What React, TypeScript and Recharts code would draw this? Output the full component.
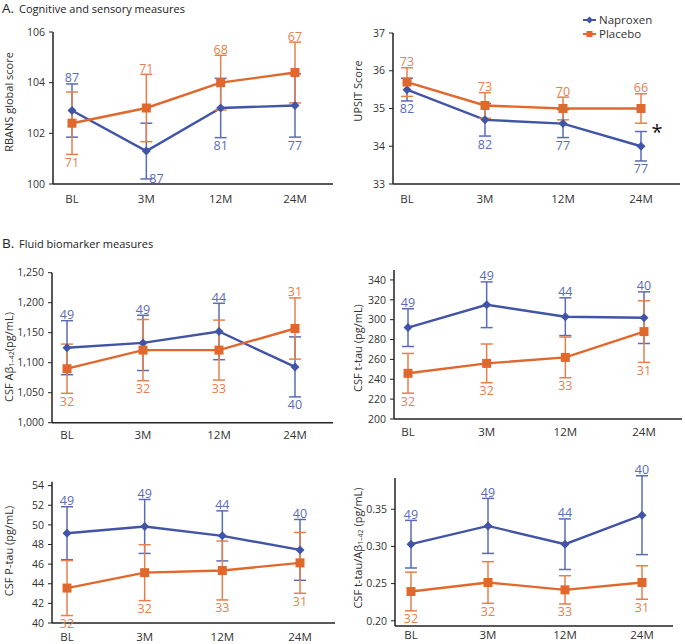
import { LineChart, Line, XAxis, YAxis, ErrorBar, LabelList, Legend } from 'recharts';

const visits = ['BL', '3M', '12M', '24M'];

// A. RBANS global score
const rbansNap = [102.9, 101.3, 103.0, 103.1];
const rbansNapErr = [1.05, 1.1, 1.17, 1.25];
const rbansNapN = [87, 87, 81, 77];
const rbansPla = [102.4, 103.0, 104.0, 104.4];
const rbansPlaErr = [1.23, 1.33, 1.08, 1.2];
const rbansPlaN = [71, 71, 68, 67];

// A. UPSIT score
const upsitNap = [35.5, 34.7, 34.6, 34.0];
const upsitNapErr = [0.3, 0.43, 0.37, 0.39];
const upsitNapN = [82, 82, 77, 77];
const upsitPla = [35.7, 35.08, 35.0, 35.0];
const upsitPlaErr = [0.38, 0.34, 0.3, 0.39];
const upsitPlaN = [73, 73, 70, 66];

// B. CSF Abeta 1-42
const abNap = [1125, 1133, 1152, 1093];
const abNapErr = [45, 46, 47, 50];
const abNapN = [49, 49, 44, 40];
const abPla = [1090, 1121, 1121, 1157];
const abPlaErr = [41, 51, 50, 51];
const abPlaN = [32, 32, 33, 31];

// B. CSF t-tau
const ttauNap = [292, 315, 303, 302];
const ttauNapErr = [19, 23, 19, 26];
const ttauNapN = [49, 49, 44, 40];
const ttauPla = [246, 256, 262, 288];
const ttauPlaErr = [20, 19.5, 20.5, 31];
const ttauPlaN = [32, 32, 33, 31];

// B. CSF P-tau
const ptauNap = [49.15, 49.84, 48.88, 47.45];
const ptauNapErr = [2.7, 2.75, 2.55, 3.1];
const ptauNapN = [49, 49, 44, 40];
const ptauPla = [43.56, 45.13, 45.35, 46.13];
const ptauPlaErr = [2.8, 2.85, 3.0, 3.1];
const ptauPlaN = [32, 32, 33, 31];

// B. CSF t-tau / Abeta 1-42
const ratioNap = [0.303, 0.3276, 0.303, 0.342];
const ratioNapErr = [0.032, 0.037, 0.034, 0.053];
const ratioNapN = [49, 49, 44, 40];
const ratioPla = [0.2394, 0.2515, 0.2416, 0.2515];
const ratioPlaErr = [0.026, 0.028, 0.019, 0.0225];
const ratioPlaN = [32, 32, 33, 31];

const NAP = '#4254a6';
const NAP_LIGHT = '#5a6cb6';
const PLA = '#e1682c';
const PLA_LIGHT = '#e5804c';
const AXIS = '#222';
const FONT = '"Open Sans", sans-serif';

type Side = 'top' | 'bottom' | 'right';

const sub = (main: string, tail: string) => (
  <>
    {main}
    <tspan dy={2.5} fontSize={7}>1–42</tspan>
    <tspan dy={-2.5}>{tail}</tspan>
  </>
);

const panels = [
  {
    key: 'rbans',
    box: { x: 0, y: 0, w: 340, h: 225 },
    plot: { left: 53, top: 32, right: 333, bottom: 184 },
    pad: { left: 19, right: 38 },
    domain: [100, 106], ticks: [100, 102, 104, 106], fmt: (v: number) => String(v),
    xGap: 11, title: 'RBANS global score' as React.ReactNode, titleX: 8.5, titleY: 102,
    nap: rbansNap, napErr: rbansNapErr, napN: rbansNapN, napSide: ['top', 'right', 'bottom', 'bottom'] as Side[],
    pla: rbansPla, plaErr: rbansPlaErr, plaN: rbansPlaN, plaSide: ['bottom', 'top', 'top', 'top'] as Side[],
  },
  {
    key: 'upsit',
    box: { x: 340, y: 0, w: 345, h: 225 },
    plot: { left: 393, top: 33, right: 680, bottom: 184 },
    pad: { left: 14, right: 39 },
    domain: [33, 37], ticks: [33, 34, 35, 36, 37], fmt: (v: number) => String(v),
    xGap: 11, title: 'UPSIT Score' as React.ReactNode, titleX: 357, titleY: 91,
    nap: upsitNap, napErr: upsitNapErr, napN: upsitNapN, napSide: ['bottom', 'bottom', 'bottom', 'bottom'] as Side[],
    pla: upsitPla, plaErr: upsitPlaErr, plaN: upsitPlaN, plaSide: ['top', 'top', 'top', 'top'] as Side[],
  },
  {
    key: 'ab',
    box: { x: 0, y: 240, w: 340, h: 215 },
    plot: { left: 52, top: 272.7, right: 333, bottom: 422.7 },
    pad: { left: 15, right: 38 },
    domain: [1000, 1250], ticks: [1000, 1050, 1100, 1150, 1200, 1250],
    fmt: (v: number) => v.toLocaleString('en-US'),
    xGap: 8, title: sub('CSF Aβ', '(pg/mL)'), titleX: 8, titleY: 357,
    nap: abNap, napErr: abNapErr, napN: abNapN, napSide: ['top', 'top', 'top', 'bottom'] as Side[],
    pla: abPla, plaErr: abPlaErr, plaN: abPlaN, plaSide: ['bottom', 'bottom', 'bottom', 'top'] as Side[],
  },
  {
    key: 'ttau',
    box: { x: 340, y: 240, w: 345, h: 215 },
    plot: { left: 394, top: 270, right: 682, bottom: 419 },
    pad: { left: 14, right: 38 },
    domain: [200, 350], ticks: [200, 220, 240, 260, 280, 300, 320, 340], fmt: (v: number) => String(v),
    xGap: 8.5, title: 'CSF t-tau (pg/mL)' as React.ReactNode, titleX: 357, titleY: 348,
    nap: ttauNap, napErr: ttauNapErr, napN: ttauNapN, napSide: ['top', 'top', 'top', 'top'] as Side[],
    pla: ttauPla, plaErr: ttauPlaErr, plaN: ttauPlaN, plaSide: ['bottom', 'bottom', 'bottom', 'bottom'] as Side[],
  },
  {
    key: 'ptau',
    box: { x: 0, y: 455, w: 340, h: 189 },
    plot: { left: 52, top: 481.7, right: 335, bottom: 623 },
    pad: { left: 15, right: 35 },
    domain: [40, 54.4], ticks: [40, 42, 44, 46, 48, 50, 52, 54], fmt: (v: number) => String(v),
    xGap: 9.5, title: 'CSF P-tau (pg/mL)' as React.ReactNode, titleX: 8, titleY: 551,
    nap: ptauNap, napErr: ptauNapErr, napN: ptauNapN, napSide: ['top', 'top', 'top', 'top'] as Side[],
    pla: ptauPla, plaErr: ptauPlaErr, plaN: ptauPlaN, plaSide: ['bottom', 'bottom', 'bottom', 'bottom'] as Side[],
  },
  {
    key: 'ratio',
    box: { x: 340, y: 455, w: 345, h: 189 },
    plot: { left: 395, top: 478, right: 673, bottom: 626 },
    pad: { left: 16, right: 31 },
    domain: [0.193, 0.392], ticks: [0.2, 0.25, 0.3, 0.35], fmt: (v: number) => v.toFixed(2),
    xGap: 5, title: sub('CSF t-tau/Aβ', ' (pg/mL)'), titleX: 357, titleY: 548,
    nap: ratioNap, napErr: ratioNapErr, napN: ratioNapN, napSide: ['top', 'top', 'top', 'top'] as Side[],
    pla: ratioPla, plaErr: ratioPlaErr, plaN: ratioPlaN, plaSide: ['bottom', 'bottom', 'bottom', 'bottom'] as Side[],
  },
];

const Diamond = (props: any) => {
  const { cx, cy } = props;
  if (cx == null || cy == null) return <g />;
  const r = 4.5;
  return <path d={`M${cx},${cy - r}L${cx + r},${cy}L${cx},${cy + r}L${cx - r},${cy}Z`} fill={NAP} />;
};

const Square = (props: any) => {
  const { cx, cy } = props;
  if (cx == null || cy == null) return <g />;
  return <rect x={cx - 4.5} y={cy - 4.5} width={9} height={9} fill={PLA} />;
};

const countLabel = (sides: Side[], color: string) => (props: any) => {
  const x = props.x ?? props.viewBox?.x;
  const y = props.y ?? props.viewBox?.y;
  const side = sides[props.index];
  const common = { fontSize: 12.5, fill: color, fontFamily: FONT };
  if (side === 'top') {
    return <text x={x} y={y - 1.5} textAnchor="middle" {...common}>{props.value}</text>;
  }
  if (side === 'right') {
    return <text x={x + 3} y={y + 4} textAnchor="start" {...common}>{props.value}</text>;
  }
  return <text x={x} y={y + 12.5} textAnchor="middle" {...common}>{props.value}</text>;
};

const LegendBox = () => (
  <div style={{ fontFamily: FONT, fontSize: 11.5, color: '#333', lineHeight: '14px' }}>
    {[{ name: 'Naproxen', c: NAP, m: 'd' }, { name: 'Placebo', c: PLA, m: 's' }].map((it) => (
      <div key={it.name} style={{ display: 'flex', alignItems: 'center', height: 14 }}>
        <svg width={14} height={10} style={{ marginRight: 2 }}>
          <line x1={0} y1={5} x2={13} y2={5} stroke={it.c} strokeWidth={2} />
          {it.m === 'd'
            ? <path d="M6.5,1.5L10,5L6.5,8.5L3,5Z" fill={it.c} />
            : <rect x={3.5} y={2} width={6} height={6} fill={it.c} />}
        </svg>
        <span>{it.name}</span>
      </div>
    ))}
  </div>
);

const PanelChart = ({ p }: { p: (typeof panels)[number] }) => {
  const rows = visits.map((cat, i) => ({
    cat,
    nap: p.nap[i], napErr: p.napErr[i], napN: p.napN[i], napSide: p.napSide[i],
    pla: p.pla[i], plaErr: p.plaErr[i], plaN: p.plaN[i], plaSide: p.plaSide[i],
  }));
  const top = p.plot.top - p.box.y;
  const right = p.box.x + p.box.w - p.plot.right;
  const yWidth = p.plot.left - p.box.x;
  const xHeight = p.box.y + p.box.h - p.plot.bottom;

  return (
    <div style={{ position: 'absolute', left: p.box.x, top: p.box.y }}>
      <LineChart width={p.box.w} height={p.box.h} data={rows}
        margin={{ top, right, bottom: 0, left: 0 }}>
        <XAxis dataKey="cat" padding={p.pad} interval={0} tickLine={false} tickSize={0}
          tickMargin={p.xGap} height={xHeight}
          axisLine={{ stroke: AXIS, strokeWidth: 1.5 }}
          tick={{ fontSize: 11.5, fill: '#333', fontFamily: FONT }} />
        <YAxis type="number" domain={p.domain} ticks={p.ticks} allowDataOverflow width={yWidth}
          tickFormatter={p.fmt} tickSize={4} tickMargin={4}
          axisLine={{ stroke: AXIS, strokeWidth: 1.5 }} tickLine={{ stroke: AXIS }}
          tick={{ fontSize: 10.5, fill: '#333', fontFamily: FONT }}
          label={() => (
            <text x={p.titleX - p.box.x} y={p.titleY - p.box.y} textAnchor="middle"
              dominantBaseline="central" fontSize={11} fill="#333" fontFamily={FONT}
              transform={`rotate(-90 ${p.titleX - p.box.x} ${p.titleY - p.box.y})`}>
              {p.title}
            </text>
          )} />
        {p.key === 'upsit' && (
          <Legend layout="vertical" align="center" verticalAlign="middle"
            content={() => <LegendBox />}
            wrapperStyle={{ top: 13, left: 243, width: 90, height: 28 }} />
        )}
        <Line dataKey="nap" name="Naproxen" stroke={NAP} strokeWidth={2.4} dot={<Diamond />}
          activeDot={false} isAnimationActive={false}>
          <ErrorBar dataKey="napErr" direction="y" width={6} stroke={NAP_LIGHT} strokeWidth={1.5}
            isAnimationActive={false} />
        </Line>
        <Line dataKey="pla" name="Placebo" stroke={PLA} strokeWidth={2.4} dot={<Square />}
          activeDot={false} isAnimationActive={false}>
          <ErrorBar dataKey="plaErr" direction="y" width={6} stroke={PLA_LIGHT} strokeWidth={1.5}
            isAnimationActive={false} />
        </Line>
        <Line dataKey={(d: any) => (d.napSide === 'top' ? d.nap + d.napErr : d.nap - d.napErr)}
          stroke="none" dot={false} activeDot={false} legendType="none" isAnimationActive={false}>
          <LabelList dataKey="napN" content={countLabel(p.napSide, NAP_LIGHT)} />
        </Line>
        <Line dataKey={(d: any) => (d.plaSide === 'top' ? d.pla + d.plaErr : d.pla - d.plaErr)}
          stroke="none" dot={false} activeDot={false} legendType="none" isAnimationActive={false}>
          <LabelList dataKey="plaN" content={countLabel(p.plaSide, PLA_LIGHT)} />
        </Line>
      </LineChart>
    </div>
  );
};

export default function App() {
  return (
    <div style={{ position: 'absolute', left: 0, top: 0, width: 685, height: 644, background: '#fff', fontFamily: FONT }}>
      {panels.map((p) => <PanelChart key={p.key} p={p} />)}
      <svg width={685} height={644} style={{ position: 'absolute', left: 0, top: 0, pointerEvents: 'none' }}>
        <text x={2} y={13} fontSize={13.5} fill="#222" fontFamily={FONT}>A.</text>
        <text x={19} y={13} fontSize={11} fill="#222" fontFamily={FONT}>Cognitive and sensory measures</text>
        <text x={2} y={248} fontSize={13.5} fill="#222" fontFamily={FONT}>B.</text>
        <text x={19} y={248} fontSize={11} fill="#222" fontFamily={FONT}>Fluid biomarker measures</text>
        <text x={657} y={139} fontSize={20} fill="#111" textAnchor="middle" fontFamily={FONT}>*</text>
      </svg>
    </div>
  );
}
